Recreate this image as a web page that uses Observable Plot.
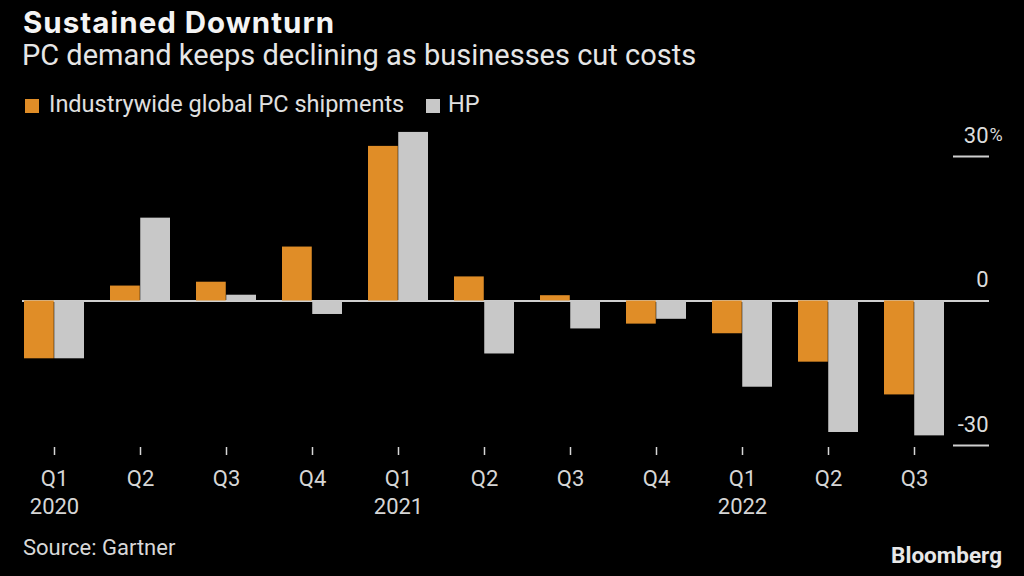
<!DOCTYPE html>
<html>
<head>
<meta charset="utf-8">
<script src="https://cdn.jsdelivr.net/npm/d3@7"></script>
<script src="https://cdn.jsdelivr.net/npm/@observablehq/plot@0.6"></script>
<style>
  html, body { margin: 0; padding: 0; background: #000; }
  #wrap { position: relative; width: 1024px; height: 576px; background: #000; overflow: hidden;
          font-family: Roboto, "Noto Sans", sans-serif; color: #e2e2e2; }
  .t { position: absolute; white-space: nowrap; line-height: 1; }
  #title { left: 23px; top: 8px; font-size: 29.5px; font-weight: 700; letter-spacing: 1px; color: #f4f4f4; font-family: Inter, "Open Sans", Roboto, sans-serif; }
  #subtitle { left: 22px; top: 41px; font-size: 29px; color: #e6e6e6; }
  .sw { position: absolute; width: 14px; height: 14px; }
  .legtxt { top: 93px; font-size: 23.5px; color: #e0e0e0; }
  #chart { position: absolute; left: 0; top: 115px; }
  #source { left: 23px; top: 537px; font-size: 22px; color: #d8d8d8; }
  #brand { right: 22px; top: 544px; font-size: 22.5px; font-weight: 700; color: #e8e8e8; }
</style>
</head>
<body>
<div id="wrap">
  <div class="t" id="title">Sustained Downturn</div>
  <div class="t" id="subtitle">PC demand keeps declining as businesses cut costs</div>
  <div id="legend"></div>
  <div id="chart"></div>
  <div class="t" id="source">Source: Gartner</div>
  <div class="t" id="brand">Bloomberg</div>
</div>
<script>
// ---- data ----
const quarters = ["Q1 2020","Q2 2020","Q3 2020","Q4 2020","Q1 2021","Q2 2021","Q3 2021","Q4 2021","Q1 2022","Q2 2022","Q3 2022"];
const quarterLabels = ["Q1","Q2","Q3","Q4","Q1","Q2","Q3","Q4","Q1","Q2","Q3"];
const yearLabels = ["2020","","","","2021","","","","2022","",""];
const seriesNames = ["Industrywide global PC shipments", "HP"];
const seriesColors = ["#e08d27", "#c8c8c8"];
const industry = [-12.0, 3.1, 3.9, 11.2, 32.1, 5.0, 1.1, -4.8, -6.8, -12.7, -19.5];
const hp       = [-12.0, 17.2, 1.2, -2.8, 35.0, -11.0, -5.8, -3.8, -17.9, -27.3, -28.0];
const yTicks = [30, 0, -30];
const yLabels = ["30", "0", "-30"];

// ---- legend ----
const legend = document.getElementById("legend");
const legPos = [{sw: 25, tx: 49}, {sw: 426, tx: 448}];
seriesNames.forEach((name, i) => {
  const s = document.createElement("div");
  s.className = "sw";
  s.style.left = legPos[i].sw + "px";
  s.style.top = "99px";
  s.style.background = seriesColors[i];
  legend.appendChild(s);
  const t = document.createElement("div");
  t.className = "t legtxt";
  t.style.left = legPos[i].tx + "px";
  t.textContent = name;
  legend.appendChild(t);
});

// ---- chart ----
const chartData = quarters.flatMap((q, i) => [
  {quarter: q, series: seriesNames[0], value: industry[i]},
  {quarter: q, series: seriesNames[1], value: hp[i]}
]);
const xRange = [22, 946.5];
const bw = d3.scaleBand().domain(quarters).range(xRange).paddingInner(0.3).paddingOuter(0).bandwidth();

const chart = Plot.plot({
  width: 1024,
  height: 410,
  marginLeft: 22,
  marginRight: 36,
  marginTop: 0,
  marginBottom: 78,
  style: {background: "transparent", color: "#dcdcdc", fontFamily: "Roboto, 'Noto Sans', sans-serif", fontSize: "22px"},
  x: {type: "band", domain: quarters, range: xRange, paddingInner: 0.3, paddingOuter: 0, align: 0.5, label: null},
  y: {domain: [-30, 30], range: [330, 41], label: null},
  color: {domain: seriesNames, range: seriesColors},
  marks: [
    Plot.ruleY([0], {stroke: "#cfcfcf", strokeWidth: 2}),
    Plot.barY(chartData.filter(d => d.series === seriesNames[0]), {x: "quarter", y1: 0, y2: "value", fill: "series", insetRight: bw / 2}),
    Plot.barY(chartData.filter(d => d.series === seriesNames[1]), {x: "quarter", y1: 0, y2: "value", fill: "series", insetLeft: bw / 2}),
    Plot.axisX({
      anchor: "bottom", label: null, tickSize: 8, tickPadding: 15, color: "#d6d6d6", strokeWidth: 1.5,
      tickFormat: d => quarterLabels[quarters.indexOf(d)]
    }),
    Plot.axisX({
      anchor: "bottom", label: null, tickSize: 0, tickPadding: 51, color: "#d6d6d6",
      tickFormat: d => yearLabels[quarters.indexOf(d)]
    }),
    Plot.axisY({anchor: "right", label: null, ticks: yTicks, tickSize: 36, dx: -36, tickFormat: () => "", stroke: "#cfcfcf", strokeWidth: 2}),
    Plot.text(yTicks, {y: d => d, text: (d, i) => yLabels[i], frameAnchor: "right", textAnchor: "end", dy: -21, fill: "#dcdcdc", fontSize: 22}),
    Plot.text([yTicks[0]], {y: d => d, text: () => "%", frameAnchor: "right", textAnchor: "start", dx: 1, dy: -21, fill: "#dcdcdc", fontSize: 18})
  ]
});
document.getElementById("chart").appendChild(chart);
</script>
</body>
</html>
